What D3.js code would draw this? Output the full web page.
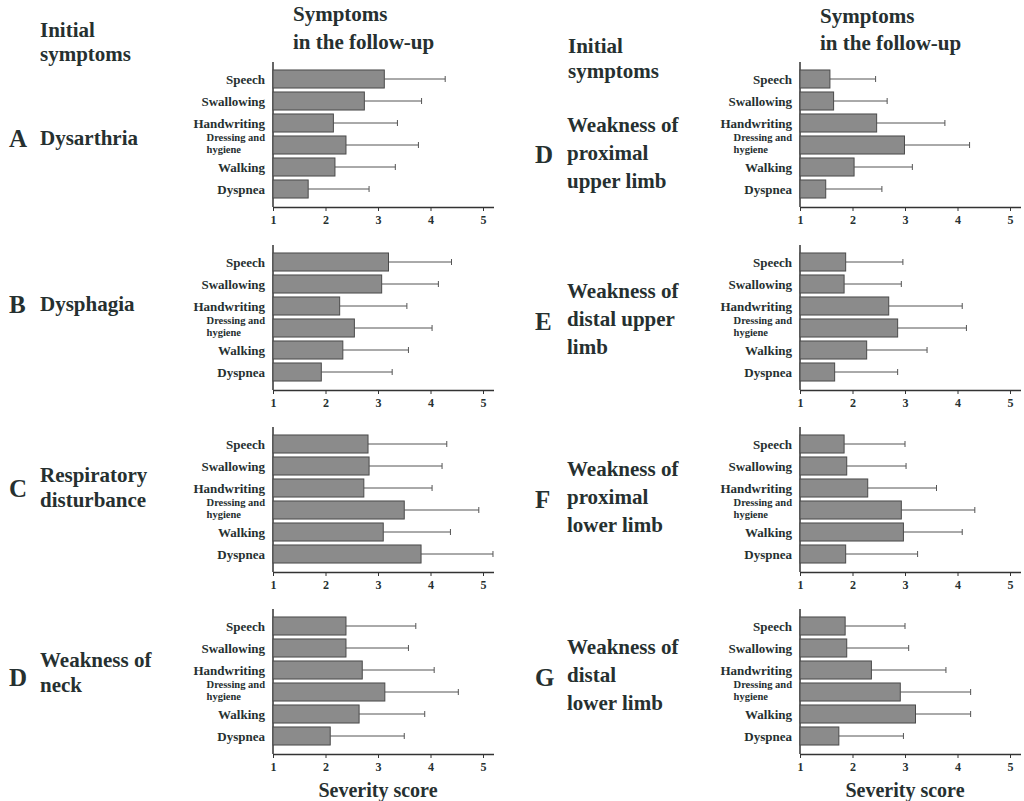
<!DOCTYPE html>
<html>
<head>
<meta charset="utf-8">
<script src="https://cdn.jsdelivr.net/npm/d3@7"></script>
<style>
  body { margin: 0; background: #fff; }
</style>
</head>
<body>
<div id="chart"></div>
<script>
var categories = ["Speech", "Swallowing", "Handwriting", "Dressing and hygiene", "Walking", "Dyspnea"];
var tickValues = [1, 2, 3, 4, 5];

var panelLetters = ["A", "B", "C", "D", "D", "E", "F", "G"];
var panelTitles = [
    ["Dysarthria"],
    ["Dysphagia"],
    ["Respiratory", "disturbance"],
    ["Weakness of", "neck"],
    ["Weakness of", "proximal", "upper limb"],
    ["Weakness of", "distal upper", "limb"],
    ["Weakness of", "proximal", "lower limb"],
    ["Weakness of", "distal", "lower limb"]
];

// mean severity, per panel
var means = [
    [3.12, 2.74, 2.15, 2.39, 2.18, 1.67],
    [3.20, 3.07, 2.27, 2.55, 2.33, 1.92],
    [2.81, 2.83, 2.73, 3.50, 3.10, 3.82],
    [2.39, 2.39, 2.70, 3.13, 2.64, 2.09],
    [1.57, 1.64, 2.46, 2.99, 2.03, 1.49],
    [1.87, 1.84, 2.69, 2.86, 2.27, 1.66],
    [1.84, 1.89, 2.29, 2.93, 2.97, 1.87],
    [1.86, 1.89, 2.36, 2.91, 3.20, 1.74]
];
// end of the error bar (mean + SD)
var upper = [
    [4.28, 3.83, 3.37, 3.77, 3.33, 2.83],
    [4.40, 4.15, 3.55, 4.03, 3.58, 3.27],
    [4.31, 4.22, 4.03, 4.92, 4.38, 5.19],
    [3.72, 3.58, 4.07, 4.53, 3.89, 3.50],
    [2.44, 2.66, 3.76, 4.23, 3.14, 2.56],
    [2.96, 2.93, 4.09, 4.17, 3.42, 2.86],
    [3.00, 3.02, 3.60, 4.33, 4.09, 3.24],
    [3.00, 3.07, 3.78, 4.25, 4.25, 2.97]
];

var FONT = "'Liberation Serif', 'Times New Roman', Times, serif";

function init(){
    var w = 1024, h = 801;
    var svg = d3.select("#chart").append("svg")
        .attr("width", w).attr("height", h)
        .style("font-family", FONT)
        .style("font-weight", "bold");

    var axisYs = [207, 390, 572, 754];
    var cols = [
        {x0: 273, labelX: 265, letterX: 9, titleX: 40, lh: 25},
        {x0: 800, labelX: 792, letterX: 535, titleX: 567, lh: 28}
    ];
    // baselines of the first title line and of the letter, per panel
    var titleY = [145, 311, 482, 667, 132, 298, 476, 654];
    var letterY = [147, 313, 497, 686, 163, 330, 508, 686];
    var unit = 52.5;
    var ink = "#263030";

    // headers
    var headers = [
        {x: 40, y: 37, t: "Initial"}, {x: 40, y: 61, t: "symptoms"},
        {x: 293, y: 21, t: "Symptoms"}, {x: 293, y: 49, t: "in the follow-up"},
        {x: 568, y: 53, t: "Initial"}, {x: 568, y: 78, t: "symptoms"},
        {x: 820, y: 23, t: "Symptoms"}, {x: 820, y: 50, t: "in the follow-up"}
    ];
    svg.selectAll("text.header").data(headers).enter().append("text")
        .attr("class", "header")
        .attr("x", function(d){ return d.x; })
        .attr("y", function(d){ return d.y; })
        .attr("font-size", 21)
        .attr("fill", ink)
        .text(function(d){ return d.t; });

    panelLetters.forEach(function(letter, p){
        var col = cols[p < 4 ? 0 : 1];
        var axisY = axisYs[p % 4];

        var x = d3.scaleLinear().domain([1, 5.2])
            .range([col.x0, col.x0 + 4.2 * unit]);
        var y = d3.scaleBand().domain(categories)
            .range([axisY - 139, axisY - 7])
            .paddingInner(0.18).paddingOuter(0.09);

        var g = svg.append("g");

        // y axis line
        g.append("line")
            .attr("x1", col.x0).attr("x2", col.x0)
            .attr("y1", axisY - 145).attr("y2", axisY)
            .attr("stroke", "#333").attr("stroke-width", 1.5);

        var xAxis = g.append("g")
            .attr("transform", "translate(0," + axisY + ")")
            .call(d3.axisBottom(x).tickValues(tickValues)
                .tickFormat(d3.format("d")).tickSize(4).tickSizeOuter(0));
        xAxis.attr("font-family", null);
        xAxis.select(".domain").attr("stroke", "#333").attr("stroke-width", 1.5);
        xAxis.selectAll(".tick line").attr("stroke", "#333");
        xAxis.selectAll(".tick text")
            .attr("font-size", 12).attr("dy", "0.8em").attr("fill", ink);

        var rows = categories.map(function(c, i){
            return {cat: c, mean: means[p][i], up: upper[p][i]};
        });

        // error bars
        g.selectAll("line.err").data(rows).enter().append("line")
            .attr("x1", function(d){ return x(d.mean); })
            .attr("x2", function(d){ return x(d.up); })
            .attr("y1", function(d){ return y(d.cat) + y.bandwidth() / 2; })
            .attr("y2", function(d){ return y(d.cat) + y.bandwidth() / 2; })
            .attr("stroke", "#555").attr("stroke-width", 1);
        g.selectAll("line.cap").data(rows).enter().append("line")
            .attr("x1", function(d){ return x(d.up); })
            .attr("x2", function(d){ return x(d.up); })
            .attr("y1", function(d){ return y(d.cat) + y.bandwidth() / 2 - 3; })
            .attr("y2", function(d){ return y(d.cat) + y.bandwidth() / 2 + 3; })
            .attr("stroke", "#555").attr("stroke-width", 1);

        // bars
        g.selectAll("rect").data(rows).enter().append("rect")
            .attr("x", x(1))
            .attr("y", function(d){ return y(d.cat); })
            .attr("width", function(d){ return x(d.mean) - x(1); })
            .attr("height", y.bandwidth())
            .attr("fill", "#8b8b8b")
            .attr("stroke", "#4a4a4a").attr("stroke-width", 1);

        // category labels
        rows.forEach(function(d){
            var cy = y(d.cat) + y.bandwidth() / 2;
            if (d.cat === "Dressing and hygiene") {
                var t1 = g.append("text").attr("x", col.labelX).attr("y", cy - 4)
                    .attr("text-anchor", "end").attr("font-size", 10.5)
                    .attr("fill", ink).text("Dressing and");
                var len = t1.node().getComputedTextLength();
                g.append("text").attr("x", col.labelX - len).attr("y", cy + 8)
                    .attr("font-size", 10.5).attr("fill", ink).text("hygiene");
            } else {
                g.append("text").attr("x", col.labelX).attr("y", cy + 4.5)
                    .attr("text-anchor", "end").attr("font-size", 13)
                    .attr("fill", ink).text(d.cat);
            }
        });

        // panel letter + initial symptom title
        g.append("text").attr("x", col.letterX).attr("y", letterY[p])
            .attr("font-size", 25).attr("fill", ink).text(letter);
        panelTitles[p].forEach(function(t, i){
            g.append("text").attr("x", col.titleX).attr("y", titleY[p] + i * col.lh)
                .attr("font-size", 21).attr("fill", ink).text(t);
        });

        if (p % 4 === 3) {
            g.append("text").attr("x", x(3)).attr("y", 797)
                .attr("text-anchor", "middle").attr("font-size", 20)
                .attr("fill", ink).text("Severity score");
        }
    });
}

window.onload = init;
</script>
</body>
</html>
